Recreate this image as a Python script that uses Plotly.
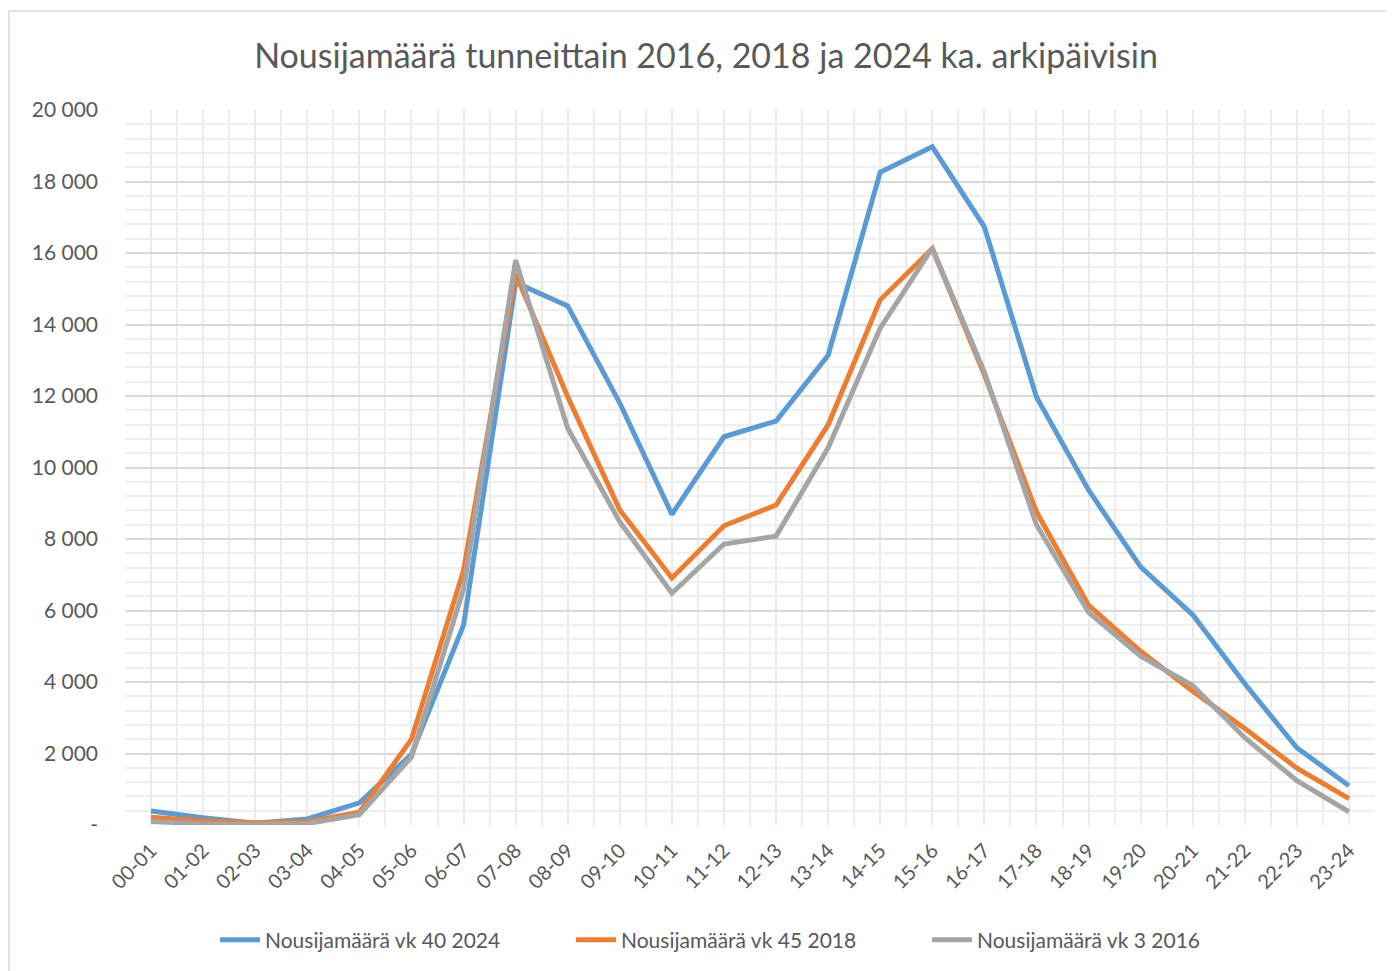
import plotly.graph_objects as go

categories = ["00-01", "01-02", "02-03", "03-04", "04-05", "05-06", "06-07", "07-08",
              "08-09", "09-10", "10-11", "11-12", "12-13", "13-14", "14-15", "15-16",
              "16-17", "17-18", "18-19", "19-20", "20-21", "21-22", "22-23", "23-24"]

vk40_2024 = [390, 200, 50, 170, 620, 1980, 5590, 15170, 14520, 11800, 8690, 10860,
             11300, 13140, 18260, 18970, 16730, 11970, 9370, 7220, 5880, 3950, 2160, 1100]
vk45_2018 = [220, 110, 60, 90, 360, 2400, 7120, 15420, 11980, 8810, 6910, 8370,
             8950, 11190, 14690, 16120, 12590, 8760, 6150, 4860, 3740, 2700, 1590, 740]
vk3_2016 = [100, 30, 20, 40, 290, 1900, 6600, 15800, 11100, 8480, 6480, 7860,
            8080, 10550, 13900, 16140, 12670, 8400, 5950, 4720, 3900, 2440, 1240, 370]

series_names = ["Nousijamäärä vk 40 2024", "Nousijamäärä vk 45 2018", "Nousijamäärä vk 3 2016"]
series_colors = ["#5B9BD5", "#ED7D31", "#A5A5A5"]

y_ticks = [0, 2000, 4000, 6000, 8000, 10000, 12000, 14000, 16000, 18000, 20000]
y_ticktext = ["-", "2 000", "4 000", "6 000", "8 000", "10 000", "12 000", "14 000",
              "16 000", "18 000", "20 000"]

title_text = "Nousijamäärä tunneittain 2016, 2018 ja 2024 ka. arkipäivisin"

FONT = "Lato"
TXT = "#595959"

# page has an 8px body margin, so the figure is offset by 8px
OFF = 8
W, H = 1394 - OFF, 971 - OFF
L = 125 - OFF
T = 110 - OFF
R = W - (1375 - OFF)
B = H - (825 - OFF)

x_idx = list(range(len(categories)))

fig = go.Figure()
for name, vals, col in zip(series_names, [vk40_2024, vk45_2018, vk3_2016], series_colors):
    fig.add_trace(go.Scatter(
        x=x_idx, y=vals, mode="lines", name=name,
        line=dict(color=col, width=5, shape="linear"),
    ))

plot_w = W - L - R
plot_h = H - T - B

fig.update_layout(
    width=W, height=H,
    margin=dict(l=L, r=R, t=T, b=B),
    paper_bgcolor="white", plot_bgcolor="white",
    font=dict(family=FONT, color=TXT),
    title=dict(text=title_text, x=(706 - OFF) / W, xref="container", xanchor="center",
               y=1 - (56 - OFF) / H, yref="container", yanchor="middle",
               font=dict(family=FONT, size=34, color=TXT)),
    showlegend=True,
    legend=dict(orientation="h", x=(215 - OFF) / W, xref="container", xanchor="left",
                y=1 - (940 - OFF) / H, yref="container", yanchor="middle",
                font=dict(family=FONT, size=21, color=TXT),
                itemwidth=40, entrywidth=301, entrywidthmode="pixels",
                tracegroupgap=0),
    xaxis=dict(
        range=[-0.5, len(categories) - 0.5],
        tickmode="array", tickvals=x_idx, ticktext=categories,
        tickangle=-45, tickfont=dict(family=FONT, size=20, color=TXT),
        ticklabelstandoff=9,
        showgrid=True, gridcolor="#ebebeb", gridwidth=1.5,
        showline=False, zeroline=False, ticks="",
        minor=dict(tick0=-0.5, dtick=1, showgrid=True, gridcolor="#ebebeb", gridwidth=1.5),
        fixedrange=True,
    ),
    yaxis=dict(
        range=[0, 20000],
        tickmode="array", tickvals=y_ticks, ticktext=y_ticktext,
        tickfont=dict(family=FONT, size=21, color=TXT),
        showgrid=True, gridcolor="#d9d9d9", gridwidth=1.5,
        showline=False, zeroline=False, ticks="",
        ticklabelstandoff=26,
        minor=dict(tick0=0, dtick=400, showgrid=True, gridcolor="#efefef", gridwidth=1.5),
        fixedrange=True,
    ),
    shapes=[dict(type="rect", xref="paper", yref="paper",
                 x0=(1 - L) / plot_w, x1=1.2,
                 y0=-0.5, y1=(H - B - 3) / plot_h,
                 line=dict(color="#d9d9d9", width=1.5), fillcolor="rgba(0,0,0,0)",
                 layer="below")],
)

fig.write_html("out.html")
